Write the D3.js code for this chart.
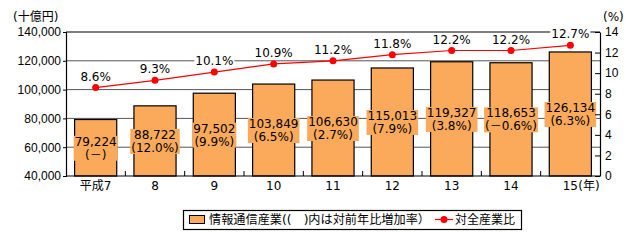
<!DOCTYPE html>
<html>
<head>
<meta charset="utf-8">
<script src="https://cdn.jsdelivr.net/npm/d3@7"></script>
<style>
  body { margin: 0; background: #fff; }
  svg { font-family: "DejaVu Sans", "Noto Sans CJK JP", sans-serif; font-size: 12px; }
</style>
</head>
<body>
<svg id="chart"></svg>
<script>
// Data
const years = ["平成7", "8", "9", "10", "11", "12", "13", "14", "15"];
const industryValues = [79224, 88722, 97502, 103849, 106630, 115013, 119327, 118653, 126134];
const growthLabels = ["(－)", "(12.0%)", "(9.9%)", "(6.5%)", "(2.7%)", "(7.9%)", "(3.8%)", "(－0.6%)", "(6.3%)"];
const shareValues = [8.6, 9.3, 10.1, 10.9, 11.2, 11.8, 12.2, 12.2, 12.7];
const leftTicks = [40000, 60000, 80000, 100000, 120000, 140000];
const rightTicks = [0, 2, 4, 6, 8, 10, 12, 14];

const width = 642;
const height = 240;
const plotLeft = 66, plotRight = 600, plotTop = 32, plotBottom = 176;
const barColor = "#fba95b";

const svg = d3.select("#chart").attr("width", width).attr("height", height);

// Scales
const x = d3.scaleBand()
  .domain(years)
  .range([plotLeft, plotRight])
  .paddingInner(0.29)
  .paddingOuter(0.145);

const yLeft = d3.scaleLinear().domain([40000, 140000]).range([plotBottom, plotTop]);
const yRight = d3.scaleLinear().domain([0, 14]).range([plotBottom, plotTop]);

// Gridlines
svg.append("g")
  .selectAll("line")
  .data(leftTicks.slice(1, -1))
  .enter()
  .append("line")
  .attr("x1", plotLeft)
  .attr("x2", plotRight)
  .attr("y1", (d) => yLeft(d))
  .attr("y2", (d) => yLeft(d))
  .attr("stroke", "#555")
  .attr("stroke-width", 1);

// Top border
svg.append("line")
  .attr("x1", plotLeft).attr("x2", plotRight)
  .attr("y1", plotTop).attr("y2", plotTop)
  .attr("stroke", "#000").attr("stroke-width", 1.2);

// Bars
svg.append("g")
  .selectAll("rect")
  .data(industryValues)
  .enter()
  .append("rect")
  .attr("x", (d, i) => x(years[i]))
  .attr("y", (d) => yLeft(d))
  .attr("width", x.bandwidth())
  .attr("height", (d) => plotBottom - yLeft(d))
  .attr("fill", barColor)
  .attr("stroke", "#000")
  .attr("stroke-width", 1.2);

// Bar labels (value + growth), centered in the bar, on orange boxes
const barLabels = svg.append("g");
industryValues.forEach((v, i) => {
  const cx = x(years[i]) + x.bandwidth() / 2;
  const mid = (yLeft(v) + plotBottom) / 2;
  const g = barLabels.append("g");
  const t = g.append("text")
    .attr("text-anchor", "middle")
    .attr("fill", "#000");
  t.append("tspan").attr("x", cx).attr("y", mid - 2).text(d3.format(",")(v));
  t.append("tspan").attr("x", cx).attr("y", mid + 11).text(growthLabels[i]);
  const bb = t.node().getBBox();
  g.insert("rect", "text")
    .attr("x", bb.x - 1)
    .attr("y", bb.y + 1)
    .attr("width", bb.width + 2)
    .attr("height", bb.height - 2)
    .attr("fill", barColor);
});

// Left axis
const leftAxis = svg.append("g")
  .attr("transform", `translate(${plotLeft},0)`)
  .call(d3.axisLeft(yLeft).tickValues(leftTicks).tickFormat(d3.format(",")).tickSize(3).tickPadding(2));
leftAxis.select(".domain").attr("stroke", "#000").attr("stroke-width", 1.2);
leftAxis.selectAll("text").attr("font-size", 12).attr("font-family", null).attr("fill", "#000");

// Right axis (ticks pointing inward)
const rightAxis = svg.append("g")
  .attr("transform", `translate(${plotRight},0)`)
  .call(d3.axisRight(yRight).tickValues(rightTicks).tickSize(0).tickPadding(5));
rightAxis.select(".domain").attr("stroke", "#000").attr("stroke-width", 1.2);
rightAxis.selectAll(".tick line").attr("x1", -5).attr("x2", 0).attr("stroke", "#000");
rightAxis.selectAll("text").attr("font-size", 12).attr("font-family", null).attr("fill", "#000");

// Bottom axis
svg.append("line")
  .attr("x1", plotLeft).attr("x2", plotRight)
  .attr("y1", plotBottom).attr("y2", plotBottom)
  .attr("stroke", "#000").attr("stroke-width", 1.2);

svg.append("g")
  .selectAll("line")
  .data(years.slice(1))
  .enter()
  .append("line")
  .attr("x1", (d) => x(d) - x.step() * x.paddingInner() / 2)
  .attr("x2", (d) => x(d) - x.step() * x.paddingInner() / 2)
  .attr("y1", plotBottom - 5)
  .attr("y2", plotBottom)
  .attr("stroke", "#000");

svg.append("g")
  .selectAll("text")
  .data(years)
  .enter()
  .append("text")
  .attr("x", (d) => x(d) + x.bandwidth() / 2)
  .attr("y", 190)
  .attr("text-anchor", "middle")
  .text((d) => d);

const lastX = x(years[years.length - 1]) + x.bandwidth() / 2;
svg.append("text")
  .attr("x", lastX + 8)
  .attr("y", 190)
  .text("(年)");

// Unit labels
svg.append("text").attr("x", 13).attr("y", 21).text("(十億円)");
svg.append("text").attr("x", 603).attr("y", 21).text("(%)");

// Line series
const line = d3.line()
  .x((d, i) => x(years[i]) + x.bandwidth() / 2)
  .y((d) => yRight(d));

svg.append("path")
  .datum(shareValues)
  .attr("d", line)
  .attr("fill", "none")
  .attr("stroke", "#ff0000")
  .attr("stroke-width", 1.2);

svg.append("g")
  .selectAll("circle")
  .data(shareValues)
  .enter()
  .append("circle")
  .attr("cx", (d, i) => x(years[i]) + x.bandwidth() / 2)
  .attr("cy", (d) => yRight(d))
  .attr("r", 3.5)
  .attr("fill", "#ff0000");

// Line labels on white boxes
const lineLabels = svg.append("g");
shareValues.forEach((v, i) => {
  const g = lineLabels.append("g");
  const t = g.append("text")
    .attr("x", x(years[i]) + x.bandwidth() / 2)
    .attr("y", yRight(v) - 7)
    .attr("text-anchor", "middle")
    .text(v.toFixed(1) + "%");
  const bb = t.node().getBBox();
  g.insert("rect", "text")
    .attr("x", bb.x - 1)
    .attr("y", bb.y + 1)
    .attr("width", bb.width + 2)
    .attr("height", bb.height - 2)
    .attr("fill", "#fff");
});

// Legend
const legend = svg.append("g");
legend.append("rect")
  .attr("x", 183.5).attr("y", 210.5)
  .attr("width", 338).attr("height", 19)
  .attr("fill", "#fff").attr("stroke", "#000").attr("stroke-width", 1.2);
legend.append("rect")
  .attr("x", 189.5).attr("y", 215.5)
  .attr("width", 15).attr("height", 8)
  .attr("fill", barColor).attr("stroke", "#000");
legend.append("text")
  .attr("x", 209).attr("y", 224)
  .attr("textLength", 221)
  .attr("lengthAdjust", "spacingAndGlyphs")
  .text("情報通信産業((　)内は対前年比増加率）");
legend.append("line")
  .attr("x1", 435).attr("x2", 453)
  .attr("y1", 219.5).attr("y2", 219.5)
  .attr("stroke", "#ff0000").attr("stroke-width", 1.2);
legend.append("circle")
  .attr("cx", 444).attr("cy", 219.5).attr("r", 3.5)
  .attr("fill", "#ff0000");
legend.append("text")
  .attr("x", 455).attr("y", 224)
  .text("対全産業比");
</script>
</body>
</html>
